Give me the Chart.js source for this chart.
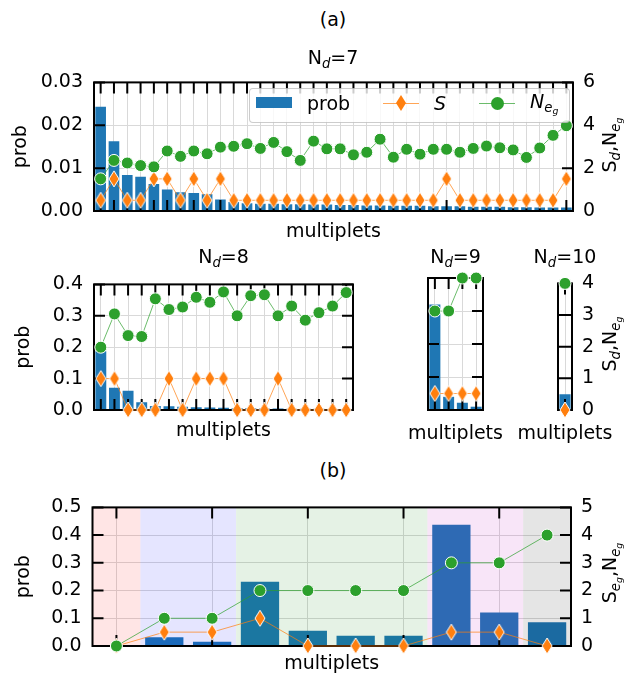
<!DOCTYPE html>
<html>
<head>
<meta charset="utf-8">
<script src="https://cdn.jsdelivr.net/npm/chart.js@4.4.1/dist/chart.umd.min.js"></script>
<style>
  body { margin: 0; background: #fff; }
  #wrap { position: relative; width: 636px; height: 673px; overflow: hidden; font-family: 'DejaVu Sans', sans-serif; color: #000; }
  canvas { position: absolute; left: 0; }
  .lbl { position: absolute; font-size: 19px; line-height: 19px; white-space: nowrap; transform: translate(-50%, -50%); }
  .l { position: absolute; font-size: 19px; line-height: 19px; white-space: nowrap; transform: translateY(-50%); }
  .rot { transform: translate(-50%, -50%) rotate(-90deg); }
  .sub { font-size: 0.7em; position: relative; top: 0.3em; font-style: italic; }
  .sub2 { font-size: 0.7em; position: relative; top: 0.25em; font-style: italic; }
  .it { font-style: italic; }
</style>
</head>
<body>
<div id="wrap">
  <div class="lbl" style="left:333px;top:19px">(a)</div>
  <div class="lbl" style="left:333px;top:58px">N<span class="sub">d</span>=7</div>
  <div class="lbl rot" style="left:610.5px;top:145px">S<span class="sub">d</span>,N<span class="sub">e<span class="sub2">g</span></span></div>

  <div class="lbl" style="left:223.5px;top:257px">N<span class="sub">d</span>=8</div>
  <div class="lbl" style="left:455.5px;top:257px">N<span class="sub">d</span>=9</div>
  <div class="lbl" style="left:565px;top:257px">N<span class="sub">d</span>=10</div>
  <div class="lbl" style="left:455.5px;top:431.5px">multiplets</div>
  <div class="lbl" style="left:565px;top:431.5px">multiplets</div>
  <div class="lbl rot" style="left:610.5px;top:344px">S<span class="sub">d</span>,N<span class="sub">e<span class="sub2">g</span></span></div>

  <div class="lbl" style="left:333px;top:470px">(b)</div>
  <div class="lbl rot" style="left:610.5px;top:573px">S<span class="sub">e<span class="sub2">g</span></span>,N<span class="sub">e<span class="sub2">g</span></span></div>
</div>
<script>
// ---- data ----
const multN7 = [1, 2, 3, 4, 5, 6, 7, 8, 9, 10, 11, 12, 13, 14, 15, 16, 17, 18, 19, 20, 21, 22, 23, 24, 25, 26, 27, 28, 29, 30, 31, 32, 33, 34, 35, 36];
const probN7 = [0.0243, 0.0163, 0.0084, 0.0080, 0.0063, 0.0050, 0.0044, 0.0042, 0.0039, 0.0027,
                0.0021, 0.0018, 0.0017, 0.0017, 0.0016, 0.0016, 0.0015, 0.0015, 0.0014, 0.0014,
                0.0013, 0.0013, 0.0012, 0.0012, 0.0012, 0.0011, 0.0011, 0.0011, 0.0010, 0.0010,
                0.0010, 0.0009, 0.0009, 0.0008, 0.0008, 0.0008];
const sN7 = [0.5, 1.5, 0.5, 0.5, 1.5, 1.5, 0.5, 1.5, 0.5, 1.5,
             0.5, 0.5, 0.5, 0.5, 0.5, 0.5, 0.5, 0.5, 0.5, 0.5,
             0.5, 0.5, 0.5, 0.5, 0.5, 0.5, 1.5, 0.5, 0.5, 0.5,
             0.5, 0.5, 0.5, 0.5, 0.5, 1.5];
const negN7 = [1.5, 2.36, 2.24, 2.12, 2.06, 2.8, 2.55, 2.8, 2.67, 2.98,
               3.02, 3.14, 2.92, 3.2, 2.77, 2.36, 3.26, 2.9, 2.9, 2.62,
               2.74, 3.35, 2.51, 2.88, 2.65, 2.88, 2.88, 2.74, 2.92, 3.03,
               2.95, 2.85, 2.5, 2.94, 3.53, 3.98];

const multN8 = [1, 2, 3, 4, 5, 6, 7, 8, 9, 10, 11, 12, 13, 14, 15, 16, 17, 18, 19];
const probN8 = [0.187, 0.071, 0.061, 0.025, 0.013, 0.012, 0.010, 0.009, 0.008, 0.007,
                0.006, 0.006, 0.005, 0.005, 0.004, 0.004, 0.004, 0.003, 0.003];
const sN8 = [1, 1, 0, 0, 0, 1, 0, 1, 1, 1, 0, 0, 0, 1, 0, 0, 0, 0, 0];
const negN8 = [2.0, 3.06, 2.37, 2.34, 3.54, 3.2, 3.28, 3.59, 3.43, 3.76,
               3.0, 3.64, 3.67, 3.0, 3.31, 2.86, 3.1, 3.31, 3.74];

const multN9 = [1, 2, 3, 4];
const probN9 = [0.32, 0.04, 0.022, 0.01];
const sN9 = [0.5, 0.5, 0.5, 0.5];
const negN9 = [3, 3, 4, 4];

const multN10 = [1];
const probN10 = [0.05];
const sN10 = [0];
const negN10 = [4];

const multB = [1, 2, 3, 4, 5, 6, 7, 8, 9, 10];
const probB = [0.001, 0.032, 0.015, 0.232, 0.055, 0.037, 0.037, 0.437, 0.121, 0.086];
const sB = [0, 0.5, 0.5, 1, 0, 0, 0, 0.5, 0.5, 0];
const negB = [0, 1, 1, 2, 2, 2, 2, 3, 3, 4];

// ---- styles ----
const BLUE = '#1f77b4', ORANGE = '#ff7f0e', GREEN = '#2ca02c', GRID = '#d9d9d9';
const SPAN_COLORS = ['rgba(255,0,0,0.1)', 'rgba(0,0,255,0.1)', 'rgba(0,128,0,0.1)', 'rgba(191,0,191,0.1)', 'rgba(0,0,0,0.1)'];
const TICK_LEN = 11;

Chart.defaults.font.family = "'DejaVu Sans', sans-serif";
Chart.defaults.font.size = 19;
Chart.defaults.color = '#000';

function makeDiamond(w, h) {
  const c = document.createElement('canvas');
  c.width = w + 2; c.height = h + 2;
  const g = c.getContext('2d');
  g.beginPath();
  g.moveTo(c.width / 2, 1);
  g.lineTo(c.width - 1, c.height / 2);
  g.lineTo(c.width / 2, c.height - 1);
  g.lineTo(1, c.height / 2);
  g.closePath();
  g.fillStyle = ORANGE; g.fill();
  g.strokeStyle = '#fff'; g.lineWidth = 1; g.stroke();
  return c;
}
const diamond = makeDiamond(10, 16);

// spans (b), inward ticks and frame, drawn right after the bars
const framePlugin = {
  id: 'frame',
  afterDatasetDraw(chart, args, opts) {
    if (args.index !== 0) return;
    const { ctx, chartArea: a, scales } = chart;
    const x = scales.x;
    ctx.save();
    if (opts.spans) {
      const half = (x.getPixelForValue(1) - x.getPixelForValue(0)) / 2;
      let start = 0;
      for (let i = 1; i <= opts.spans.length; i++) {
        if (i === opts.spans.length || opts.spans[i] !== opts.spans[start]) {
          ctx.fillStyle = SPAN_COLORS[opts.spans[start]];
          const x0 = x.getPixelForValue(start) - half, x1 = x.getPixelForValue(i - 1) + half;
          ctx.fillRect(x0, a.top, x1 - x0, a.bottom - a.top);
          start = i;
        }
      }
    }
    ctx.strokeStyle = '#000';
    ctx.lineWidth = 2;
    ctx.beginPath();
    x.ticks.forEach((t, i) => {
      if (i % opts.xEvery) return;
      const px = x.getPixelForValue(i);
      ctx.moveTo(px, a.top); ctx.lineTo(px, a.top + TICK_LEN);
      ctx.moveTo(px, a.bottom); ctx.lineTo(px, a.bottom - TICK_LEN);
    });
    scales.y.ticks.forEach(t => {
      const py = scales.y.getPixelForValue(t.value);
      ctx.moveTo(a.left, py); ctx.lineTo(a.left + TICK_LEN, py);
    });
    scales.y2.ticks.forEach(t => {
      const py = scales.y2.getPixelForValue(t.value);
      ctx.moveTo(a.right, py); ctx.lineTo(a.right - TICK_LEN, py);
    });
    ctx.stroke();
    ctx.strokeRect(a.left, a.top, a.right - a.left, a.bottom - a.top);
    ctx.restore();
  }
};

const wrap = document.getElementById('wrap');

function makePanel(o) {
  const cv = document.createElement('canvas');
  cv.width = 636; cv.height = o.h;
  cv.style.top = o.top + 'px';
  wrap.insertBefore(cv, wrap.firstChild);
  const padTop = o.area.top - o.top;
  const xH = o.xTitleY + 11.4 - o.area.bottom;
  const padBottom = o.h - xH - (o.area.bottom - o.top);
  const xEvery = o.xEvery || 1;

  new Chart(cv, {
    type: 'bar',
    data: {
      labels: o.labels,
      datasets: [
        { type: 'bar', label: 'prob', data: o.prob, yAxisID: 'y', backgroundColor: BLUE,
          barPercentage: 0.8, categoryPercentage: 1.0, order: 3 },
        { type: 'line', label: 'S', data: o.s, yAxisID: 'y2', borderColor: 'rgba(255,127,14,0.7)', borderWidth: 1,
          pointStyle: diamond, pointRadius: 6, clip: false, order: 2 },
        { type: 'line', label: 'Neg', data: o.neg, yAxisID: 'y2', borderColor: 'rgba(44,160,44,0.7)', borderWidth: 1,
          pointStyle: 'circle', pointRadius: 6, pointBackgroundColor: GREEN, pointBorderColor: '#fff',
          pointBorderWidth: 1, clip: false, order: 1 }
      ]
    },
    options: {
      responsive: false,
      animation: false,
      events: [],
      layout: { padding: { top: padTop, bottom: padBottom, left: 0, right: 0 } },
      plugins: {
        legend: { display: false },
        tooltip: { enabled: false },
        frame: { xEvery: xEvery, spans: o.spans }
      },
      scales: {
        x: {
          grid: { offset: false, drawTicks: false, color: c => (c.index % xEvery ? 'rgba(0,0,0,0)' : GRID) },
          border: { display: false },
          ticks: { display: false, autoSkip: false },
          title: { display: o.xTitle !== false, text: 'multiplets', padding: 0 },
          afterFit: s => { s.height = xH; }
        },
        y: {
          position: 'left', min: 0, max: o.yMax,
          ticks: { stepSize: o.yStep, padding: 11, display: !!o.leftLabels, callback: v => v.toFixed(o.yDec) },
          grid: { display: false, drawTicks: false },
          border: { display: false },
          title: { display: !!o.yTitleX, text: 'prob', padding: { top: (o.yTitleX || 20) - 11.4, bottom: 0 } },
          afterFit: s => { s.width = o.area.left; }
        },
        y2: {
          position: 'right', min: 0, max: o.y2Max,
          ticks: { stepSize: 1, padding: 10, display: !!o.rightLabels },
          grid: { color: GRID, drawTicks: false },
          border: { display: false },
          afterFit: s => { s.width = 636 - o.area.right; }
        }
      }
    },
    plugins: [framePlugin]
  });
}

// (a) N_d = 7
makePanel({ top: 60, h: 190, area: { left: 94, right: 573, top: 79, bottom: 211 }, xTitleY: 232,
  labels: multN7, prob: probN7, s: sN7, neg: negN7,
  yMax: 0.03, yStep: 0.01, yDec: 2, y2Max: 6, leftLabels: true, rightLabels: true, yTitleX: 21 });

// (a) N_d = 8, 9, 10
makePanel({ top: 262, h: 185, area: { left: 94, right: 353, top: 278, bottom: 410 }, xTitleY: 431.5,
  labels: multN8, prob: probN8, s: sN8, neg: negN8,
  yMax: 0.4, yStep: 0.1, yDec: 1, y2Max: 4, leftLabels: true, rightLabels: false, yTitleX: 24 });
makePanel({ top: 262, h: 185, area: { left: 428, right: 483, top: 278, bottom: 410 }, xTitleY: 431.5, xTitle: false,
  labels: multN9, prob: probN9, s: sN9, neg: negN9,
  yMax: 0.4, yStep: 0.1, yDec: 1, y2Max: 4, leftLabels: false, rightLabels: false });
makePanel({ top: 262, h: 185, area: { left: 558, right: 572, top: 278, bottom: 410 }, xTitleY: 431.5, xTitle: false,
  labels: multN10, prob: probN10, s: sN10, neg: negN10,
  yMax: 0.4, yStep: 0.1, yDec: 1, y2Max: 4, leftLabels: false, rightLabels: true });

// (b)
makePanel({ top: 485, h: 195, area: { left: 92.5, right: 571, top: 500, bottom: 646 }, xTitleY: 664,
  labels: multB, prob: probB, s: sB, neg: negB, xEvery: 2, spans: negB,
  yMax: 0.5, yStep: 0.1, yDec: 1, y2Max: 5, leftLabels: true, rightLabels: true, yTitleX: 24 });

// legend of the top panel
const legendHtml = `
  <div style="position:absolute;left:249px;top:88px;width:321px;height:35px;box-sizing:border-box;border:1px solid rgba(0,0,0,0.2);border-radius:4px;background:rgba(255,255,255,0.8)"></div>
  <div style="position:absolute;left:256px;top:97px;width:36px;height:11px;background:${BLUE}"></div>
  <div class="l" style="left:307px;top:103px">prob</div>
  <div style="position:absolute;left:383px;top:102.5px;width:36px;height:1px;background:rgba(255,127,14,0.7)"></div>
  <div style="position:absolute;left:396px;top:95px;width:10px;height:16px;background:${ORANGE};clip-path:polygon(50% 0,100% 50%,50% 100%,0 50%)"></div>
  <div class="l it" style="left:434px;top:103px">S</div>
  <div style="position:absolute;left:479px;top:102.5px;width:36px;height:1px;background:rgba(44,160,44,0.7)"></div>
  <div style="position:absolute;left:491px;top:96.5px;width:13px;height:13px;border-radius:50%;background:${GREEN}"></div>
  <div class="l it" style="left:530px;top:103px">N<span class="sub">e<span class="sub2">g</span></span></div>`;
wrap.insertAdjacentHTML('beforeend', legendHtml);
</script>
</body>
</html>
